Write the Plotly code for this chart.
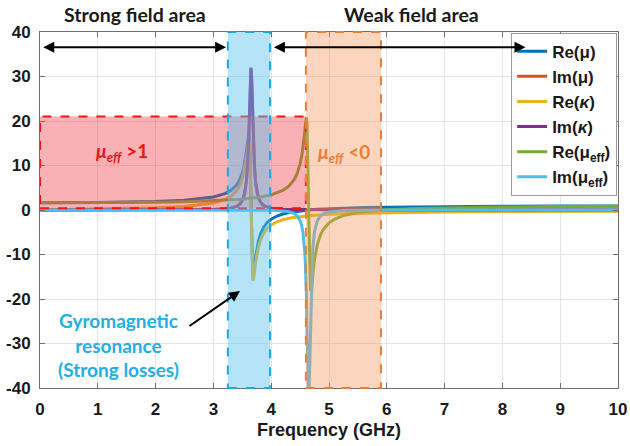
import plotly.graph_objects as go

# ---------------- data ----------------
x_tick_labels = ["0", "1", "2", "3", "4", "5", "6", "7", "8", "9", "10"]
x_tick_values = [0, 1, 2, 3, 4, 5, 6, 7, 8, 9, 10]
y_tick_values = [-40, -30, -20, -10, 0, 10, 20, 30, 40]
y_tick_labels = ["-40", "-30", "-20", "-10", "0", "10", "20", "30", "40"]

series_names = ["Re(μ)", "Im(μ)", "Re(<i>κ</i>)", "Im(<i>κ</i>)",
                "Re(μ<sub>eff</sub>)", "Im(μ<sub>eff</sub>)"]
series_colors = ["#0072BD", "#D95319", "#EDB120", "#7E2F8E", "#77AC30", "#4DBEEE"]

# frequency grid (GHz) for the real parts of mu and kappa
freq_re = [0, 1, 2, 2.5, 3.0, 3.2, 3.3, 3.4, 3.45, 3.5, 3.53, 3.56, 3.58, 3.6, 3.61,
           3.62, 3.63, 3.64, 3.65, 3.66, 3.67, 3.68, 3.69, 3.70, 3.71, 3.73, 3.75,
           3.78, 3.82, 3.87, 3.93, 4.0, 4.1, 4.2, 4.35, 4.5, 4.65, 4.8, 5.0, 5.3,
           5.6, 6.0, 6.5, 7, 8, 9, 10]
re_mu = [1.62, 1.67, 1.89, 2.17, 2.91, 3.67, 4.37, 5.61, 6.66, 8.31, 9.83, 12.02,
         13.97, 16.09, 16.81, 16.63, 14.51, 9.27, 1.16, -6.95, -12.19, -14.33,
         -14.51, -13.78, -12.74, -10.64, -8.89, -6.95, -5.24, -3.87, -2.84, -2.06,
         -1.36, -0.91, -0.48, -0.19, 0.00, 0.15, 0.29, 0.44, 0.54, 0.64, 0.71,
         0.77, 0.84, 0.88, 0.90]
re_kappa = [0.00, 0.18, 0.49, 0.80, 1.57, 2.34, 3.05, 4.29, 5.34, 6.99, 8.52, 10.71,
            12.65, 14.78, 15.50, 15.32, 13.19, 7.95, -0.16, -8.27, -13.51, -15.64,
            -15.81, -15.08, -14.05, -11.94, -10.19, -8.26, -6.54, -5.18, -4.14,
            -3.36, -2.65, -2.20, -1.76, -1.47, -1.27, -1.12, -0.97, -0.81, -0.71,
            -0.60, -0.51, -0.45, -0.36, -0.30, -0.26]

# frequency grid (GHz) for the imaginary parts of mu and kappa
freq_im = [0, 1, 2, 2.5, 3.0, 3.2, 3.3, 3.4, 3.45, 3.5, 3.54, 3.57, 3.59, 3.61,
           3.62, 3.63, 3.64, 3.65, 3.66, 3.67, 3.68, 3.69, 3.71, 3.73, 3.76, 3.8,
           3.85, 3.9, 4.0, 4.2, 4.5, 5.0, 6.0, 8.0, 10.0]
im_mu = [0.00, 0.01, 0.02, 0.04, 0.12, 0.25, 0.40, 0.79, 1.22, 2.10, 3.70, 6.33,
         9.75, 15.8, 20.3, 25.3, 29.8, 31.7, 29.8, 25.3, 20.3, 15.8, 9.75, 6.33,
         3.70, 2.10, 1.22, 0.79, 0.40, 0.17, 0.07, 0.03, 0.01, 0.00, 0.00]
im_kappa = [0.00, 0.01, 0.02, 0.04, 0.12, 0.25, 0.41, 0.80, 1.23, 2.12, 3.74, 6.40,
            9.85, 16.0, 20.5, 25.6, 30.1, 32.0, 30.1, 25.6, 20.5, 16.0, 9.85, 6.40,
            3.74, 2.12, 1.23, 0.80, 0.41, 0.17, 0.07, 0.03, 0.01, 0.00, 0.00]

# frequency grid (GHz) for the effective permeability
freq_eff = [0, 1, 2, 2.5, 3.0, 3.2, 3.4, 3.5, 3.65, 3.8, 4.0, 4.2, 4.3, 4.4, 4.45,
            4.5, 4.53, 4.55, 4.57, 4.58, 4.59, 4.6, 4.61, 4.62, 4.63, 4.635, 4.64,
            4.645, 4.65, 4.655, 4.66, 4.67, 4.68, 4.69, 4.7, 4.72, 4.75, 4.8, 4.85,
            4.9, 5.0, 5.1, 5.25, 5.5, 5.75, 6.0, 6.5, 7, 8, 9, 10]
re_mu_eff = [1.62, 1.65, 1.76, 1.88, 2.07, 2.18, 2.34, 2.44, 2.62, 2.88, 3.40, 4.39,
             5.29, 6.88, 8.23, 10.35, 12.27, 13.96, 16.03, 17.4, 19.0, 20.3, 20.8,
             19.5, 15.0, 11.5, 7.43, 3.10, -1.40, -5.66, -9.31, -14.6, -17.6, -18.3,
             -17.5, -14.5, -11.0, -7.67, -5.69, -4.42, -2.89, -2.05, -1.26, -0.56,
             -0.17, 0.07, 0.35, 0.51, 0.68, 0.77, 0.83]
im_mu_eff = [0.00, 0.00, 0.00, 0.00, 0.00, 0.00, 0.00, 0.00, 0.00, 0.00, -0.05, -0.2,
             -0.39, -0.83, -1.33, -2.38, -3.66, -5.12, -7.55, -9.36, -11.8, -15.1,
             -19.4, -27.5, -35.0, -38.5, -40.5, -41.5, -41.5, -40.5, -38.0, -31.0,
             -24.0, -18.5, -14.0, -8.6, -4.8, -2.34, -1.36, -0.88, -0.45, -0.26,
             -0.13, -0.05, 0.00, 0.00, 0.00, 0.00, 0.00, 0.00, 0.00]

# highlighted frequency bands (GHz) and level band
strong_loss_band = [3.25, 3.98]
negative_band = [4.6, 5.9]
mu_gt1_band_x = [0, 4.6]
mu_gt1_band_y = [0.4, 21]

# ---------------- figure ----------------
fig = go.Figure()
xs = [freq_re, freq_im, freq_re, freq_im, freq_eff, freq_eff]
ys = [re_mu, im_mu, re_kappa, im_kappa, re_mu_eff, im_mu_eff]
for name, color, x, y in zip(series_names, series_colors, xs, ys):
    fig.add_trace(go.Scatter(x=x, y=y, mode="lines", name=name,
                             line=dict(color=color, width=3)))

AX_FONT = dict(family="Liberation Sans, Arial", size=17, color="#1a1a1a", weight="bold")
CAL = "Lato, Open Sans, sans-serif"

fig.update_layout(
    width=630, height=446,
    margin=dict(l=40, r=12, t=32, b=58),
    plot_bgcolor="white", paper_bgcolor="white",
    showlegend=True,
    legend=dict(x=0.9985, xanchor="right", y=0.998, yanchor="top",
                bgcolor="white", bordercolor="#9a9a9a", borderwidth=1,
                font=dict(family="Liberation Sans, Arial", size=17, color="#1a1a1a",
                          weight="bold"),
                itemwidth=30, tracegroupgap=0),
    xaxis=dict(range=[0, 10], tickvals=x_tick_values, ticktext=x_tick_labels,
               automargin=False,
               showgrid=True, gridcolor="#e4e4e4", gridwidth=1, zeroline=False,
               showline=True, linecolor="#707070", linewidth=1, mirror="ticks",
               ticks="inside", ticklen=5, tickcolor="#707070",
               tickfont=AX_FONT, ticklabelstandoff=6,
               title=dict(text="Frequency (GHz)", standoff=4,
                          font=dict(family="Liberation Sans, Arial", size=18,
                                    color="#1a1a1a", weight="bold"))),
    yaxis=dict(range=[-40, 40], tickvals=y_tick_values, ticktext=y_tick_labels,
               automargin=False,
               showgrid=True, gridcolor="#e4e4e4", gridwidth=1, zeroline=False,
               showline=True, linecolor="#707070", linewidth=1, mirror="ticks",
               ticks="inside", ticklen=5, tickcolor="#707070",
               tickfont=AX_FONT, ticklabelstandoff=5),
)

# shaded regions (drawn over the curves, semi-transparent)
fig.add_shape(type="rect", xref="x", yref="y",
              x0=mu_gt1_band_x[0], x1=mu_gt1_band_x[1],
              y0=mu_gt1_band_y[0], y1=mu_gt1_band_y[1],
              fillcolor="rgba(240,60,70,0.40)",
              line=dict(color="#ff1010", width=2, dash="dash"), layer="above")
fig.add_shape(type="rect", xref="x", yref="paper",
              x0=strong_loss_band[0], x1=strong_loss_band[1], y0=0, y1=1,
              fillcolor="rgba(90,195,240,0.45)",
              line=dict(color="#1aa8e6", width=2, dash="dash"), layer="above")
fig.add_shape(type="rect", xref="x", yref="paper",
              x0=negative_band[0], x1=negative_band[1], y0=0, y1=1,
              fillcolor="rgba(244,150,90,0.40)",
              line=dict(color="#ee7d31", width=2, dash="dash"), layer="above")

# headings above the plot
fig.add_annotation(text="<b>Strong field area</b>", xref="x", yref="paper",
                   x=1.64, y=1.048, showarrow=False, yanchor="middle",
                   font=dict(family=CAL, size=19.5, color="#1a1a1a"))
fig.add_annotation(text="<b>Weak field area</b>", xref="x", yref="paper",
                   x=6.42, y=1.048, showarrow=False, yanchor="middle",
                   font=dict(family=CAL, size=19.5, color="#1a1a1a"))

# double arrows for the field areas
for xa, xb in [(0.03, 3.22), (4.02, 8.4)]:
    fig.add_annotation(x=xb, y=36.6, ax=xa, ay=36.6, xref="x", yref="y",
                       axref="x", ayref="y", text="", showarrow=True,
                       arrowhead=2, arrowsize=1.1, arrowwidth=2, arrowcolor="black",
                       arrowside="end+start")

# region labels
fig.add_annotation(text="<b><i>μ<sub>eff</sub></i> &gt;1</b>", xref="x", yref="y",
                   x=1.42, y=13.0, showarrow=False,
                   font=dict(family=CAL, size=19, color="#e8161c"))
fig.add_annotation(text="<b><i>μ<sub>eff</sub></i> &lt;0</b>", xref="x", yref="y",
                   x=5.26, y=12.8, showarrow=False,
                   font=dict(family=CAL, size=19, color="#ee7d31"))
fig.add_annotation(text="<b>Gyromagnetic<br>resonance<br>(Strong losses)</b>",
                   xref="x", yref="y", x=1.35, y=-30.3, showarrow=False,
                   align="center",
                   font=dict(family=CAL, size=19, color="#22aee6"))
fig.add_annotation(x=3.46, y=-18.2, ax=2.56, ay=-26.3, xref="x", yref="y",
                   axref="x", ayref="y", text="", showarrow=True,
                   arrowhead=2, arrowsize=1.1, arrowwidth=2, arrowcolor="black")

fig.write_html("out.html",
               config={"displayModeBar": False},
               post_script="document.body.style.margin='0';"
                           "document.body.style.overflow='hidden';")
